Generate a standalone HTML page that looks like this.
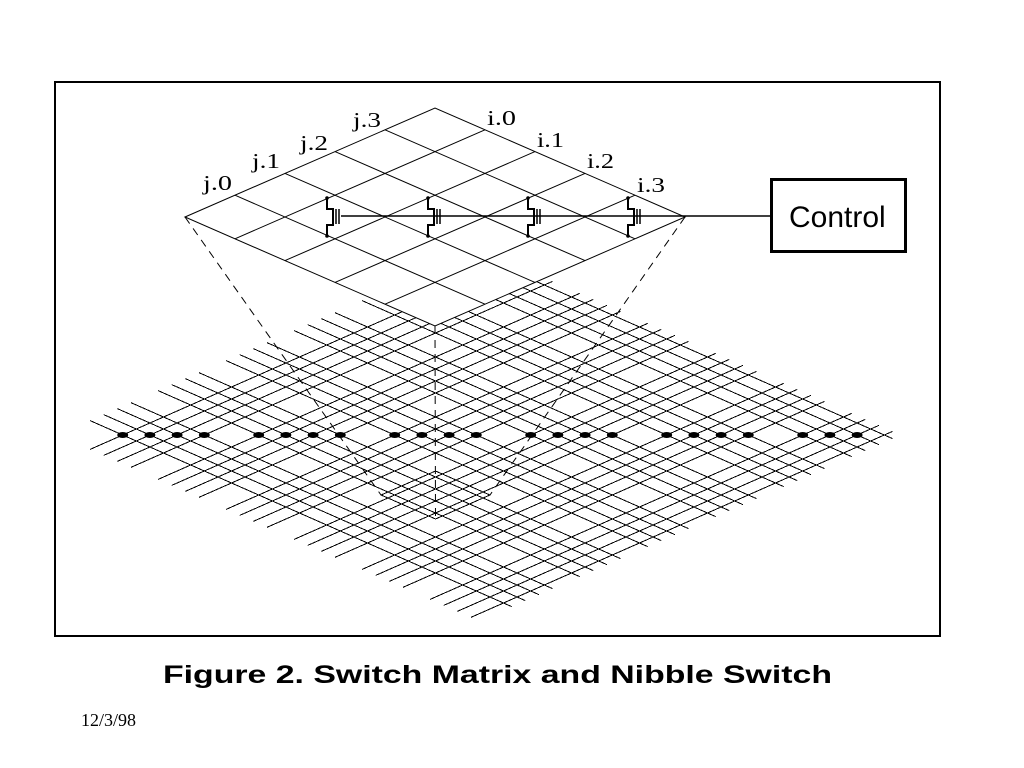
<!DOCTYPE html>
<html>
<head>
<meta charset="utf-8">
<style>
html,body{margin:0;padding:0;background:#fff;width:1024px;height:768px;overflow:hidden}
svg{display:block}
</style>
</head>
<body>
<svg width="1024" height="768" viewBox="0 0 1024 768" xmlns="http://www.w3.org/2000/svg">
<rect x="0" y="0" width="1024" height="768" fill="#fff"/>
<!-- outer frame -->
<rect x="55" y="82" width="885" height="554" fill="none" stroke="#000" stroke-width="2"/>

<!-- lower big grid (sheared coordinate space) -->
<g transform="matrix(13.6 -6 13.6 6 122.7 435)" fill="none" stroke="#000" shape-rendering="crispEdges">
<path vector-effect="non-scaling-stroke" stroke-width="1" d="M0 -2.4V28.6M1 -2.4V28.6M2 -2.4V28.6M3 -2.4V28.6M5 -2.4V28.6M6 -2.4V28.6M7 -2.4V28.6M8 -2.4V28.6M10 -2.4V28.6M11 -2.4V28.6M12 -2.4V28.6M13 -2.4V28.6M15 -2.4V28.6M16 -2.4V28.6M17 -2.4V28.6M18 -2.4V28.6M20 -2.4V28.6M21 -2.4V28.6M22 -2.4V28.6M23 -2.4V28.6M25 -2.4V28.6M26 -2.4V28.6M27 -2.4V28.6M28 -2.4V28.6"/>
<path vector-effect="non-scaling-stroke" stroke-width="1" d="M-2.4 0H28.6M-2.4 1H28.6M-2.4 2H28.6M-2.4 3H28.6M-2.4 5H28.6M-2.4 6H28.6M-2.4 7H28.6M-2.4 8H28.6M-2.4 10H28.6M-2.4 11H28.6M-2.4 12H28.6M-2.4 13H28.6M-2.4 15H28.6M-2.4 16H28.6M-2.4 17H28.6M-2.4 18H28.6M-2.4 20H28.6M-2.4 21H28.6M-2.4 22H28.6M-2.4 23H28.6M-2.4 25H28.6M-2.4 26H28.6M-2.4 27H28.6M-2.4 28H28.6"/>
<path vector-effect="non-scaling-stroke" stroke-width="1" d="M4.5 14.5H8.5V18.5H4.5Z"/>
</g>

<!-- bold dots on centre row -->
<g fill="#000">
<ellipse cx="122.7" cy="435" rx="5.5" ry="3"/>
<ellipse cx="149.9" cy="435" rx="5.5" ry="3"/>
<ellipse cx="177.1" cy="435" rx="5.5" ry="3"/>
<ellipse cx="204.3" cy="435" rx="5.5" ry="3"/>
<ellipse cx="258.7" cy="435" rx="5.5" ry="3"/>
<ellipse cx="285.9" cy="435" rx="5.5" ry="3"/>
<ellipse cx="313.1" cy="435" rx="5.5" ry="3"/>
<ellipse cx="340.3" cy="435" rx="5.5" ry="3"/>
<ellipse cx="394.7" cy="435" rx="5.5" ry="3"/>
<ellipse cx="421.9" cy="435" rx="5.5" ry="3"/>
<ellipse cx="449.1" cy="435" rx="5.5" ry="3"/>
<ellipse cx="476.3" cy="435" rx="5.5" ry="3"/>
<ellipse cx="530.7" cy="435" rx="5.5" ry="3"/>
<ellipse cx="557.9" cy="435" rx="5.5" ry="3"/>
<ellipse cx="585.1" cy="435" rx="5.5" ry="3"/>
<ellipse cx="612.3" cy="435" rx="5.5" ry="3"/>
<ellipse cx="666.7" cy="435" rx="5.5" ry="3"/>
<ellipse cx="693.9" cy="435" rx="5.5" ry="3"/>
<ellipse cx="721.1" cy="435" rx="5.5" ry="3"/>
<ellipse cx="748.3" cy="435" rx="5.5" ry="3"/>
<ellipse cx="802.7" cy="435" rx="5.5" ry="3"/>
<ellipse cx="829.9" cy="435" rx="5.5" ry="3"/>
<ellipse cx="857.1" cy="435" rx="5.5" ry="3"/>
</g>

<!-- dashed projection lines -->
<g stroke="#000" stroke-width="1" fill="none" stroke-dasharray="8 6">
<path d="M185 217L381 495"/>
<path d="M685 217L490 495"/>
<path d="M435 326L435.5 519"/>
</g>

<!-- top diamond (opaque) -->
<polygon points="185,217 435,108 685,217 435,326" fill="#fff" stroke="#000" stroke-width="1"/>
<g stroke="#000" stroke-width="1" fill="none">
<path d="M235 195.2L485 304.2M285 173.4L535 282.4M335 151.6L585 260.6M385 129.8L635 238.8"/>
<path d="M235 238.8L485 129.8M285 260.6L535 151.6M335 282.4L585 173.4M385 304.2L635 195.2"/>
</g>

<!-- control wire -->
<path d="M341 216H771" stroke="#000" stroke-width="1.5" fill="none"/>

<!-- transistors -->
<g stroke="#000" fill="none">
<path d="M327 198V209H333V225H327V236" stroke-width="2"/>
<path d="M336 209V224M339 209V224" stroke-width="1.5"/>
<path d="M428 198V209H434V225H428V236" stroke-width="2"/>
<path d="M437 209V224M440 209V224" stroke-width="1.5"/>
<path d="M528 198V209H534V225H528V236" stroke-width="2"/>
<path d="M537 209V224M540 209V224" stroke-width="1.5"/>
<path d="M628 198V209H634V225H628V236" stroke-width="2"/>
<path d="M637 209V224M640 209V224" stroke-width="1.5"/>
</g>
<g fill="#000">
<circle cx="327" cy="198" r="1.8"/><circle cx="327" cy="236" r="1.8"/>
<circle cx="428" cy="198" r="1.8"/><circle cx="428" cy="236" r="1.8"/>
<circle cx="528" cy="198" r="1.8"/><circle cx="528" cy="236" r="1.8"/>
<circle cx="628" cy="198" r="1.8"/><circle cx="628" cy="236" r="1.8"/>
</g>

<!-- Control box -->
<rect x="771.5" y="179.5" width="134" height="72" fill="#fff" stroke="#000" stroke-width="3"/>
<text x="789" y="227" font-family="'Liberation Sans', Arial, sans-serif" font-size="30" fill="#000">Control</text>

<!-- labels -->
<g font-family="'Liberation Serif', 'Times New Roman', serif" font-size="21" fill="#000">
<text x="203" y="190" textLength="29" lengthAdjust="spacingAndGlyphs">j.0</text>
<text x="252" y="168" textLength="28" lengthAdjust="spacingAndGlyphs">j.1</text>
<text x="300" y="150" textLength="28" lengthAdjust="spacingAndGlyphs">j.2</text>
<text x="353" y="127" textLength="28" lengthAdjust="spacingAndGlyphs">j.3</text>
<text x="487" y="125" textLength="29" lengthAdjust="spacingAndGlyphs">i.0</text>
<text x="537" y="147" textLength="27" lengthAdjust="spacingAndGlyphs">i.1</text>
<text x="587" y="168" textLength="27" lengthAdjust="spacingAndGlyphs">i.2</text>
<text x="637" y="192" textLength="28" lengthAdjust="spacingAndGlyphs">i.3</text>
</g>

<!-- caption -->
<text x="163" y="683" font-family="'Liberation Sans', Arial, sans-serif" font-weight="bold" font-size="25" fill="#000" textLength="669" lengthAdjust="spacingAndGlyphs">Figure 2. Switch Matrix and Nibble Switch</text>
<text x="81" y="726" font-family="'Liberation Serif', 'Times New Roman', serif" font-size="18" fill="#000">12/3/98</text>
</svg>
</body>
</html>
